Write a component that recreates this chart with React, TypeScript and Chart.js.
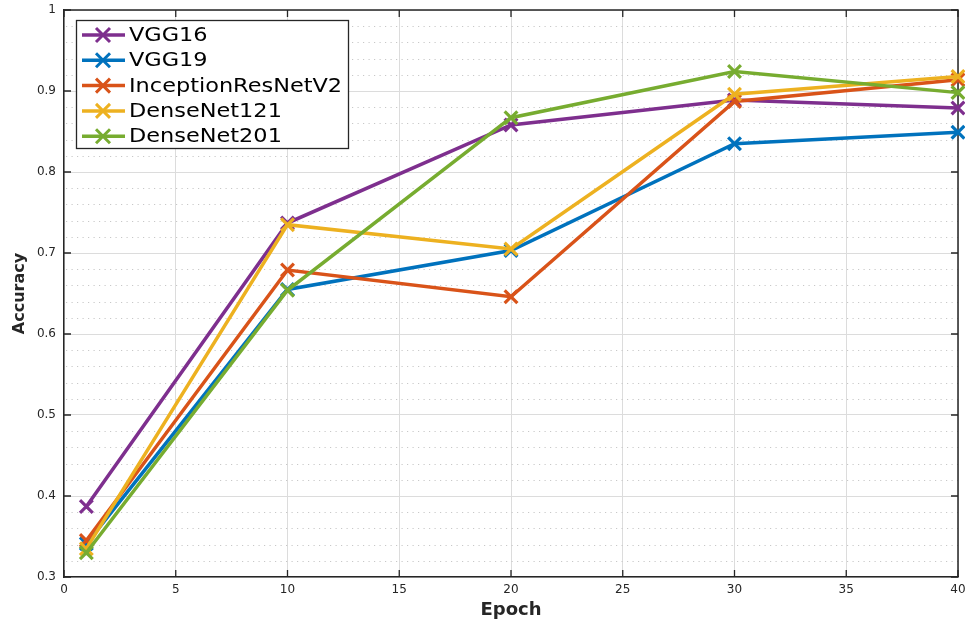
import React, { useEffect, useRef } from "react";
import { Chart, registerables } from "chart.js";

Chart.register(...registerables);

const epochs = [1, 10, 20, 30, 40];
const seriesNames = ["VGG16", "VGG19", "InceptionResNetV2", "DenseNet121", "DenseNet201"];
const vgg16 = [0.387, 0.737, 0.858, 0.889, 0.879];
const vgg19 = [0.341, 0.655, 0.703, 0.835, 0.849];
const inceptionResNetV2 = [0.345, 0.679, 0.646, 0.887, 0.914];
const denseNet121 = [0.335, 0.735, 0.705, 0.896, 0.918];
const denseNet201 = [0.33, 0.654, 0.867, 0.924, 0.898];
const seriesColors = ["#7E2F8E", "#0072BD", "#D95319", "#EDB120", "#77AC30"];

const xTicks = [0, 5, 10, 15, 20, 25, 30, 35, 40];
const yTicks = [0.3, 0.4, 0.5, 0.6, 0.7, 0.8, 0.9, 1];
const yMinorStep = 0.02;

const allSeries = [vgg16, vgg19, inceptionResNetV2, denseNet121, denseNet201];

const AXIS = "#262626";
const FONT = "'DejaVu Sans', 'Liberation Sans', sans-serif";
const PLOT_TOP = 10;
const PLOT_RIGHT = 958;

function drawCross(ctx: CanvasRenderingContext2D, x: number, y: number, r: number) {
  ctx.beginPath();
  ctx.moveTo(x - r, y - r);
  ctx.lineTo(x + r, y + r);
  ctx.moveTo(x - r, y + r);
  ctx.lineTo(x + r, y - r);
  ctx.stroke();
}

const decorPlugin = {
  id: "matlabDecor",
  afterLayout(chart: any) {
    const ca = chart.chartArea;
    ca.top = PLOT_TOP;
    ca.right = PLOT_RIGHT;
    ca.width = ca.right - ca.left;
    ca.height = ca.bottom - ca.top;
    const xs = chart.scales.x;
    const ys = chart.scales.y;
    xs.right = PLOT_RIGHT;
    xs.width = xs.right - xs.left;
    xs.configure();
    ys.top = PLOT_TOP;
    ys.height = ys.bottom - ys.top;
    ys.configure();
  },
  beforeDatasetsDraw(chart: any) {
    const ctx = chart.ctx as CanvasRenderingContext2D;
    const { left, right, top, bottom } = chart.chartArea;
    const ys = chart.scales.y;
    const xs = chart.scales.x;
    ctx.save();
    // minor dotted horizontal grid
    ctx.strokeStyle = "#c8c8c8";
    ctx.lineWidth = 1;
    ctx.setLineDash([1.2, 4.3]);
    for (let k = 0; k <= 35; k++) {
      const v = 0.3 + k * yMinorStep;
      if (k % 5 === 0) continue;
      const py = Math.round(ys.getPixelForValue(v)) + 0.5;
      ctx.beginPath();
      ctx.moveTo(left + 2, py);
      ctx.lineTo(right, py);
      ctx.stroke();
    }
    ctx.setLineDash([]);
    // box top & right
    ctx.strokeStyle = AXIS;
    ctx.lineWidth = 1.5;
    ctx.beginPath();
    ctx.moveTo(left, top);
    ctx.lineTo(right, top);
    ctx.lineTo(right, bottom);
    ctx.stroke();
    // inward ticks
    ctx.lineWidth = 1.3;
    const tl = 7;
    for (const v of yTicks) {
      const py = ys.getPixelForValue(v);
      ctx.beginPath();
      ctx.moveTo(left, py);
      ctx.lineTo(left + tl, py);
      ctx.moveTo(right, py);
      ctx.lineTo(right - tl, py);
      ctx.stroke();
    }
    for (const v of xTicks) {
      const px = xs.getPixelForValue(v);
      ctx.beginPath();
      ctx.moveTo(px, bottom);
      ctx.lineTo(px, bottom - tl);
      ctx.moveTo(px, top);
      ctx.lineTo(px, top + tl);
      ctx.stroke();
    }
    ctx.restore();
  },
  afterDatasetsDraw(chart: any) {
    const ctx = chart.ctx as CanvasRenderingContext2D;
    const { left, top } = chart.chartArea;
    const bx = left + 12;
    const by = top + 10;
    const bw = 272;
    const bh = 128;
    ctx.save();
    ctx.fillStyle = "#ffffff";
    ctx.fillRect(bx, by, bw, bh);
    ctx.strokeStyle = AXIS;
    ctx.lineWidth = 1.3;
    ctx.strokeRect(bx + 0.5, by + 0.5, bw, bh);
    const rowH = 25.3;
    for (let i = 0; i < seriesNames.length; i++) {
      const cy = by + 15 + i * rowH;
      ctx.strokeStyle = seriesColors[i];
      ctx.lineWidth = 3.5;
      ctx.beginPath();
      ctx.moveTo(bx + 6, cy);
      ctx.lineTo(bx + 49, cy);
      ctx.stroke();
      ctx.lineWidth = 3;
      drawCross(ctx, bx + 27, cy, 7);
      ctx.fillStyle = "#000000";
      ctx.font = `19px ${FONT}`;
      ctx.textBaseline = "middle";
      ctx.textAlign = "left";
      ctx.save();
      ctx.translate(bx + 53, cy + 1);
      ctx.scale(1.18, 1);
      ctx.fillText(seriesNames[i], 0, 0);
      ctx.restore();
    }
    ctx.restore();
  },
};

export default function App() {
  const ref = useRef<HTMLCanvasElement>(null);
  useEffect(() => {
    document.body.style.margin = "0";
    const canvas = ref.current;
    if (!canvas) return;
    const datasets = seriesNames.map((name, i) => ({
      label: name,
      data: epochs.map((e, j) => ({ x: e, y: allSeries[i][j] })),
      borderColor: seriesColors[i],
      backgroundColor: seriesColors[i],
      borderWidth: 3.5,
      pointStyle: "crossRot" as const,
      pointRadius: 9,
      pointBorderWidth: 3.2,
      pointHoverRadius: 9,
      tension: 0,
      fill: false,
      clip: 12,
      order: seriesNames.length - 1 - i,
    }));
    const chart = new Chart(canvas, {
      type: "line",
      data: { datasets },
      plugins: [decorPlugin],
      options: {
        animation: false,
        responsive: false,
        maintainAspectRatio: false,
        layout: { padding: { left: 0, top: 10, right: 7, bottom: 0 } },
        plugins: { legend: { display: false }, tooltip: { enabled: false } },
        scales: {
          x: {
            type: "linear",
            min: 0,
            max: 40,
            afterFit: (s: any) => {
              s.height = 46;
              s.paddingLeft = 0;
              s.paddingRight = 0;
            },
            ticks: {
              stepSize: 5,
              color: AXIS,
              padding: 6,
              font: { family: FONT, size: 12 },
              maxRotation: 0,
            },
            grid: { color: "#dcdcdc", lineWidth: 1, drawTicks: false },
            border: { display: true, color: AXIS, width: 1.5 },
            title: {
              display: true,
              text: "Epoch",
              color: AXIS,
              font: { family: FONT, size: 18, weight: "bold" },
              padding: { top: 0, bottom: 2 },
            },
          },
          y: {
            type: "linear",
            min: 0.3,
            max: 1,
            afterFit: (s: any) => {
              s.width = 64;
              s.paddingTop = 0;
              s.paddingBottom = 0;
            },
            ticks: {
              stepSize: 0.1,
              color: AXIS,
              padding: 8,
              font: { family: FONT, size: 12 },
              callback: (v: any) => String(Math.round(Number(v) * 10) / 10),
            },
            grid: { color: "#dcdcdc", lineWidth: 1, drawTicks: false },
            border: { display: true, color: AXIS, width: 1.5 },
            title: {
              display: true,
              text: "Accuracy",
              color: AXIS,
              font: { family: FONT, size: 16, weight: "bold" },
              padding: { top: 10, bottom: 0 },
            },
          },
        },
      },
    });
    return () => chart.destroy();
  }, []);
  return (
    <div style={{ position: "fixed", left: 0, top: 0, width: 965, height: 623, background: "#fff" }}>
      <canvas ref={ref} width={965} height={623} style={{ display: "block", width: 965, height: 623 }} />
    </div>
  );
}
